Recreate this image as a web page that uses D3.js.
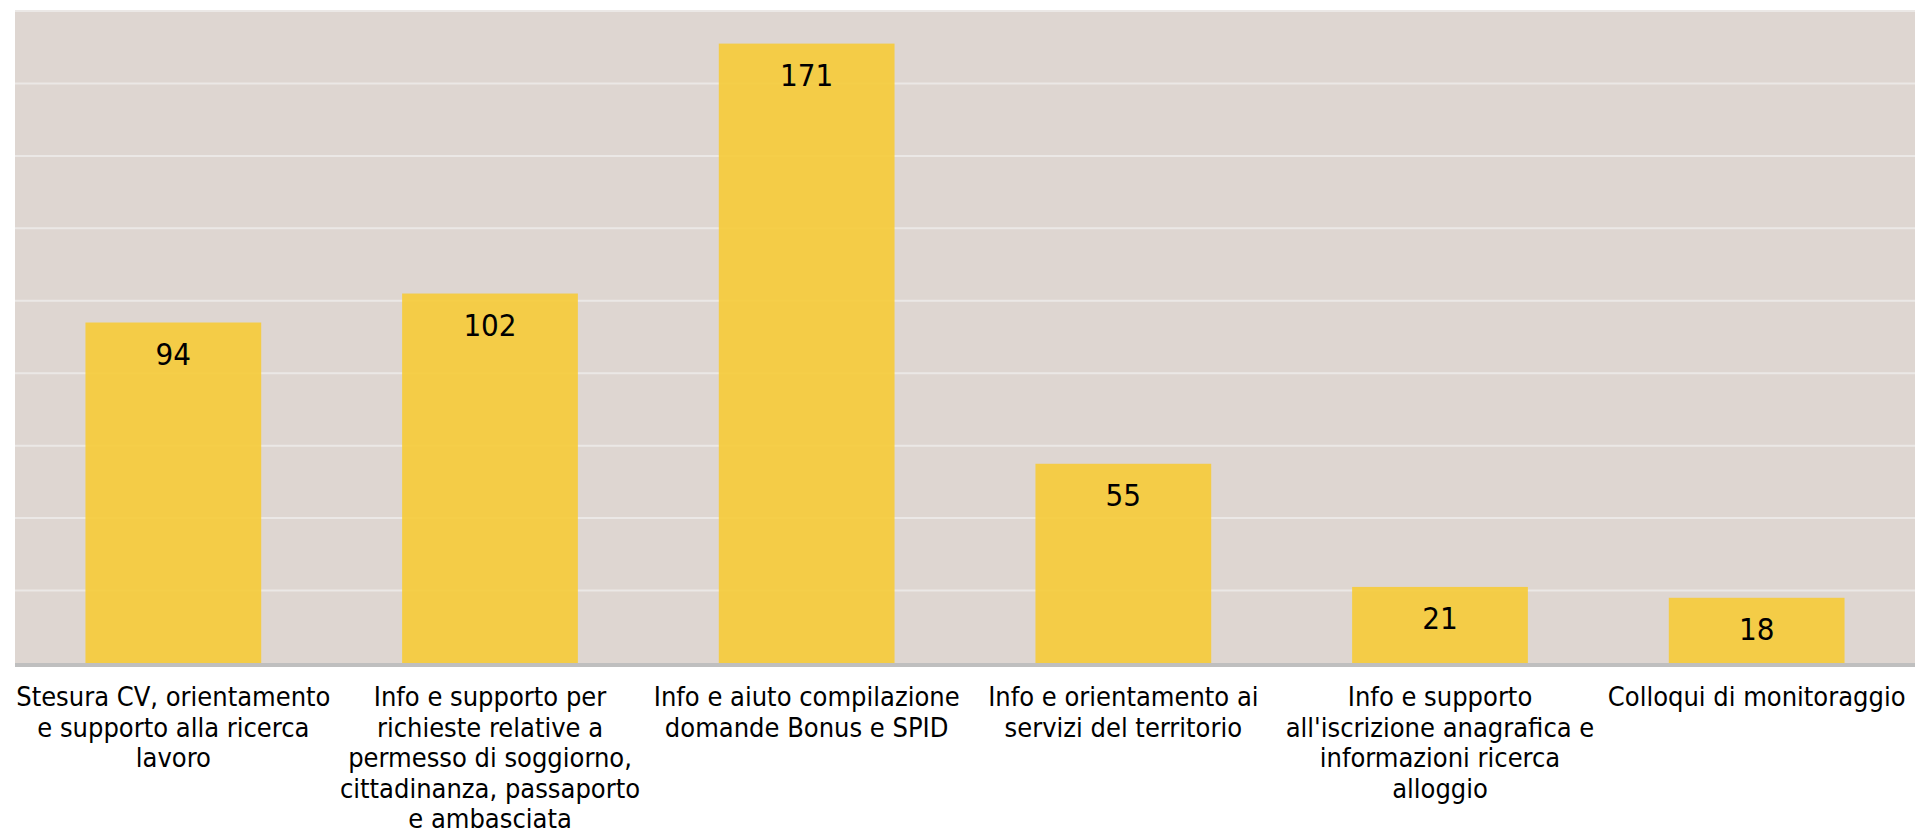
<!DOCTYPE html>
<html>
<head>
<meta charset="utf-8">
<script src="https://cdn.jsdelivr.net/npm/d3@7"></script>
<style>
  html, body { margin: 0; padding: 0; background: #ffffff; }
  svg { display: block; }
  text { font-family: "DejaVu Sans Condensed", "DejaVu Sans", sans-serif; fill: #000; }
</style>
</head>
<body>
<div id="chart"></div>
<script>
var width = 1919,
  height = 834;

// categories (line breaks as in the original labels)
var categories = [
  "Stesura CV, orientamento\ne supporto alla ricerca\nlavoro",
  "Info e supporto per\nrichieste relative a\npermesso di soggiorno,\ncittadinanza, passaporto\ne ambasciata",
  "Info e aiuto compilazione\ndomande Bonus e SPID",
  "Info e orientamento ai\nservizi del territorio",
  "Info e supporto\nall'iscrizione anagrafica e\ninformazioni ricerca\nalloggio",
  "Colloqui di monitoraggio"
];
var values = [94, 102, 171, 55, 21, 18];
var yTicks = [0, 20, 40, 60, 80, 100, 120, 140, 160, 180];

var margin = { top: 11, right: 4, bottom: 171, left: 15 };
var innerW = width - margin.left - margin.right,
  innerH = height - margin.top - margin.bottom;

var svg = d3.select("#chart")
  .append("svg")
  .attr("width", width)
  .attr("height", height);

var g = svg.append("g")
  .attr("transform", "translate(" + margin.left + "," + margin.top + ")");

var x = d3.scaleBand()
  .domain(d3.range(categories.length))
  .range([0, innerW])
  .paddingInner(0.445)
  .paddingOuter(0.2225);

var y = d3.scaleLinear()
  .domain([0, 180])
  .range([innerH, 0]);

// plot background
g.append("rect")
  .attr("x", 0)
  .attr("y", -1)
  .attr("width", innerW)
  .attr("height", innerH + 1)
  .attr("fill", "#ded6d1");

// gridlines
g.append("g")
  .selectAll("line")
  .data(yTicks.slice(1))
  .enter().append("line")
  .attr("x1", 0)
  .attr("x2", innerW)
  .attr("y1", function (d) { return y(d); })
  .attr("y2", function (d) { return y(d); })
  .attr("stroke", "#ebe8e6")
  .attr("stroke-width", 2);

// bars
g.append("g")
  .selectAll("rect")
  .data(values)
  .enter().append("rect")
  .attr("x", function (d, i) { return x(i); })
  .attr("y", function (d) { return y(d); })
  .attr("width", x.bandwidth())
  .attr("height", function (d) { return innerH - y(d); })
  .attr("fill", "#f5cb3c")
  .attr("fill-opacity", 0.93);

// value labels
g.append("g")
  .selectAll("text")
  .data(values)
  .enter().append("text")
  .attr("x", function (d, i) { return x(i) + x.bandwidth() / 2; })
  .attr("y", function (d) { return y(d) + 42; })
  .attr("text-anchor", "middle")
  .style("font-size", "31px")
  .text(function (d) { return d; });

// x axis line
g.append("line")
  .attr("x1", 0)
  .attr("x2", innerW)
  .attr("y1", innerH + 2)
  .attr("y2", innerH + 2)
  .attr("stroke", "#bfbfbf")
  .attr("stroke-width", 4);

// category labels
var labels = g.append("g")
  .selectAll("text")
  .data(categories)
  .enter().append("text")
  .attr("text-anchor", "middle")
  .attr("transform", function (d, i) {
    return "translate(" + (x(i) + x.bandwidth() / 2) + "," + (innerH + 43) + ")";
  })
  .style("font-size", "27px");

labels.selectAll("tspan")
  .data(function (d) { return d.split("\n"); })
  .enter().append("tspan")
  .attr("x", 0)
  .attr("dy", function (d, i) { return i === 0 ? 0 : 30.6; })
  .text(function (d) { return d; });
</script>
</body>
</html>
